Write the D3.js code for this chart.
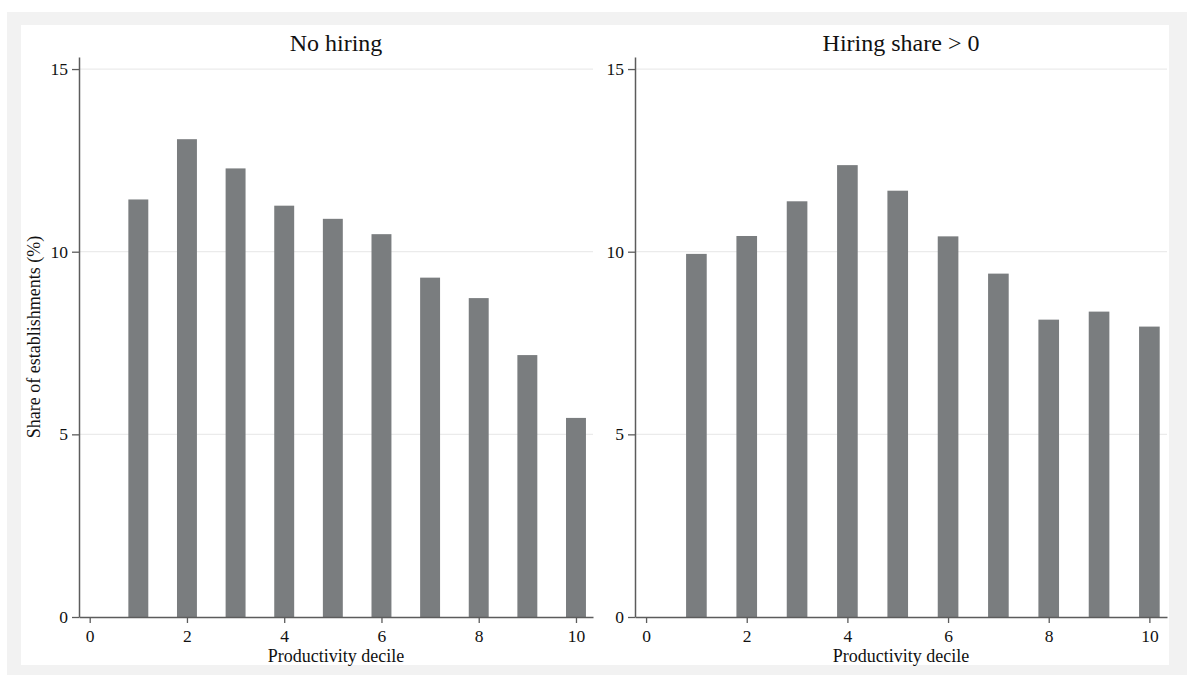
<!DOCTYPE html>
<html>
<head>
<meta charset="utf-8">
<script src="https://cdn.jsdelivr.net/npm/d3@7"></script>
<style>
  body { margin: 0; background: #ffffff; }
  text { font-family: "Liberation Serif", "Times New Roman", serif; fill: #111; }
</style>
</head>
<body>
<div id="chart"></div>
<script>
// Data
var deciles = [1, 2, 3, 4, 5, 6, 7, 8, 9, 10];
var noHiring = [11.43, 13.08, 12.28, 11.26, 10.90, 10.48, 9.29, 8.73, 7.17, 5.45];
var hiringPos = [9.94, 10.43, 11.38, 12.37, 11.67, 10.42, 9.40, 8.14, 8.36, 7.95];
var panelTitles = ["No hiring", "Hiring share > 0"];
var xTicks = [0, 2, 4, 6, 8, 10];
var yTicks = [0, 5, 10, 15];
var xTitle = "Productivity decile";
var yTitle = "Share of establishments (%)";

var width = 1187;
var height = 675;

var svg = d3
  .select("#chart")
  .append("svg")
  .attr("width", width)
  .attr("height", height);

// grey frame and white plot region
svg.append("rect")
  .attr("x", 7).attr("y", 12)
  .attr("width", width - 7).attr("height", height - 12)
  .attr("fill", "#f2f2f2");
svg.append("rect")
  .attr("x", 21).attr("y", 25)
  .attr("width", 1148).attr("height", 640)
  .attr("fill", "#ffffff");

// shared y scale
var yScale = d3.scaleLinear().domain([0, 15.33]).range([617, 57]);

var panels = [
  { title: panelTitles[0], values: noHiring, range: [79, 593], yLabel: true },
  { title: panelTitles[1], values: hiringPos, range: [635, 1167], yLabel: false }
];

panels.forEach(function (p) {
  var xScale = d3.scaleLinear().domain([-0.22, 10.35]).range(p.range);
  var g = svg.append("g");

  // gridlines
  g.selectAll("line.grid")
    .data(yTicks.filter((d) => d > 0))
    .enter()
    .append("line")
    .attr("class", "grid")
    .attr("x1", p.range[0])
    .attr("x2", p.range[1])
    .attr("y1", (d) => yScale(d))
    .attr("y2", (d) => yScale(d))
    .attr("stroke", "#ebebeb")
    .attr("stroke-width", 1.2);

  // bars
  var half = 0.205;
  g.selectAll("rect.bar")
    .data(deciles)
    .enter()
    .append("rect")
    .attr("class", "bar")
    .attr("x", (d) => xScale(d - half))
    .attr("width", (d) => xScale(d + half) - xScale(d - half))
    .attr("y", (d, i) => yScale(p.values[i]))
    .attr("height", (d, i) => yScale(0) - yScale(p.values[i]))
    .attr("fill", "#7a7d7f");

  // axes
  var yAxis = d3.axisLeft(yScale)
    .tickValues(yTicks)
    .tickSize(7)
    .tickSizeOuter(0)
    .tickPadding(4)
    .tickFormat(d3.format("d"));
  var ya = g.append("g")
    .attr("transform", "translate(" + p.range[0] + ",0)")
    .call(yAxis);

  var xAxis = d3.axisBottom(xScale)
    .tickValues(xTicks)
    .tickSize(6)
    .tickSizeOuter(0)
    .tickPadding(7)
    .tickFormat(d3.format("d"));
  var xa = g.append("g")
    .attr("transform", "translate(0," + yScale(0) + ")")
    .call(xAxis);

  [ya, xa].forEach(function (a) {
    a.select(".domain").attr("stroke", "#5c5c5c").attr("stroke-width", 1.5);
    a.selectAll(".tick line").attr("stroke", "#5c5c5c").attr("stroke-width", 1.3);
    a.selectAll(".tick text")
      .attr("font-family", "Liberation Serif, Times New Roman, serif")
      .attr("font-size", 17.5)
      .attr("fill", "#111");
  });

  // panel title
  g.append("text")
    .attr("x", (p.range[0] + p.range[1]) / 2)
    .attr("y", 51)
    .attr("text-anchor", "middle")
    .attr("font-size", 24)
    .text(p.title);

  // x axis title
  g.append("text")
    .attr("x", (p.range[0] + p.range[1]) / 2)
    .attr("y", 662)
    .attr("text-anchor", "middle")
    .attr("font-size", 18)
    .text(xTitle);

  if (p.yLabel) {
    g.append("text")
      .attr("transform", "translate(40," + (yScale(0) + yScale(15.33)) / 2 + ") rotate(-90)")
      .attr("text-anchor", "middle")
      .attr("font-size", 18)
      .text(yTitle);
  }
});
</script>
</body>
</html>
